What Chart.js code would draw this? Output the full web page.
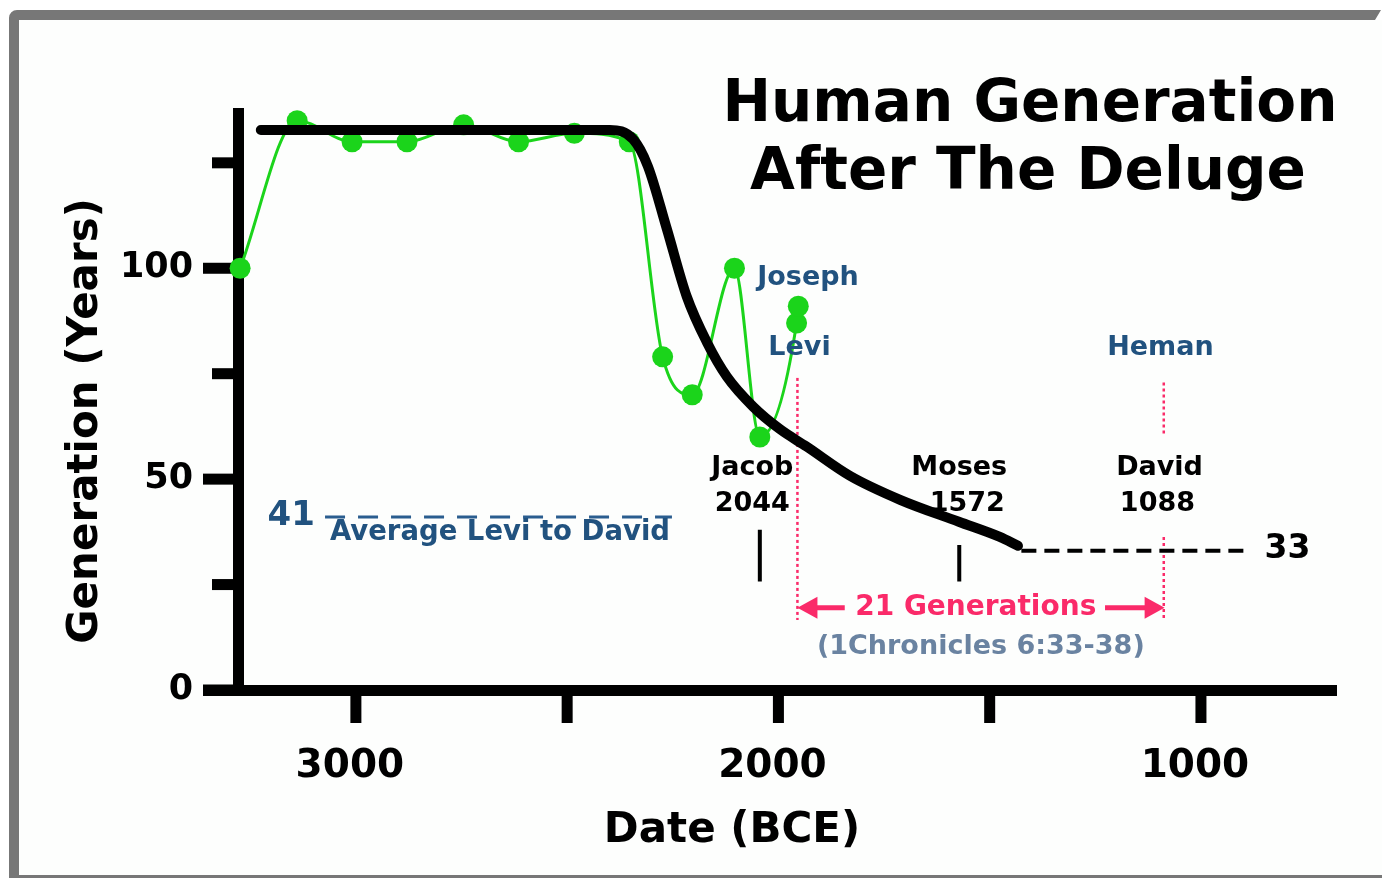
<!DOCTYPE html>
<html><head><meta charset="utf-8">
<script src="https://cdn.jsdelivr.net/npm/chart.js@4.4.0/dist/chart.umd.min.js"></script>
<style>html,body{margin:0;padding:0;background:#fff;overflow:hidden}canvas{display:block}</style>
</head><body>
<canvas id="c" width="1382" height="878"></canvas>
<script>
// ---- data ----
const birthYears = [3274, 3139, 3009, 2879, 2745, 2615, 2483, 2353, 2274, 2204, 2104, 2044, 1957, 1953];
const fatherAges = [100, 135, 130, 130, 134, 130, 132, 130, 79, 70, 100, 60, 87, 91];
const trendYears = [3225, 2399, 2344, 2309, 2264, 2217, 2169, 2122, 2060, 1996, 1933, 1831, 1712, 1573, 1476, 1433];
const trendValues = [132.8, 132.8, 130.6, 124.2, 109.3, 93.3, 82.4, 74.3, 67.2, 61.8, 57.7, 50.8, 45.1, 39.9, 36.3, 34.2];
const tailYears = [1425, 884];
const tailValue = 33;
const avgYears = [3073, 2252];
const avgValue = 41;
const xTickValues = [3000, 2500, 2000, 1500, 1000];
const xTickLabels = ['3000', '', '2000', '', '1000'];
const yTickValues = [0, 25, 50, 75, 100, 125];
const yTickLabels = ['0', '', '50', '', '100', ''];
const jacobYear = 2044, mosesYear = 1572, leviYear = 1955, davidYear = 1088;

// ---- styles ----
const FONT = 'DejaVu Sans';
const GREEN = '#1bd41b';
const BLUE = '#21527f';
const PINK = '#fa2a69';
const SLATE = '#6a83a1';

const pts = (xs, ys) => xs.map((x, i) => ({x: x, y: Array.isArray(ys) ? ys[i] : ys}));

const annotations = [
  {t: 'Joseph', x: 1930, y: 97.6, c: BLUE, s: 27},
  {t: 'Levi', x: 1950, y: 81.2, c: BLUE, s: 27},
  {t: 'Heman', x: 1096, y: 81.2, c: BLUE, s: 27},
  {t: 'Jacob', x: 2062, y: 52.7, c: '#000', s: 27},
  {t: '2044', x: 2062, y: 44.2, c: '#000', s: 27},
  {t: 'Moses', x: 1572, y: 52.7, c: '#000', s: 27},
  {t: '1572', x: 1553, y: 44.2, c: '#000', s: 27},
  {t: 'David', x: 1098, y: 52.7, c: '#000', s: 27},
  {t: '1088', x: 1103, y: 44.2, c: '#000', s: 27},
  {t: '41', x: 3153, y: 41.3, c: BLUE, s: 34},
  {t: 'Average Levi to David', x: 2659, y: 37.3, c: BLUE, s: 27.5},
  {t: '33', x: 795, y: 33.4, c: '#000', s: 33},
  {t: '21 Generations', x: 1533, y: 19.5, c: PINK, s: 28},
  {t: '(1Chronicles 6:33-38)', x: 1521, y: 10.2, c: SLATE, s: 27}
];
const arrows = [{from: 1843, to: 1955, y: 19.5}, {from: 1227, to: 1086, y: 19.5}];

const deco = {
  id: 'deco',
  beforeDraw(chart) {
    const c = chart.ctx;
    c.save();
    c.fillStyle = '#ffffff';
    c.fillRect(0, 0, chart.width, chart.height);
    c.fillStyle = '#777777';
    c.beginPath();
    c.moveTo(9, 876); c.lineTo(9, 18); c.arcTo(9, 10, 17, 10, 8);
    c.lineTo(1381, 10); c.lineTo(1375, 20); c.lineTo(19, 20); c.lineTo(19, 876);
    c.closePath(); c.fill();
    c.fillRect(9, 875, 1373, 3);
    c.fillStyle = '#fdfefd';
    c.fillRect(19, 20, 1363, 855);
    c.restore();
  },
  beforeDatasetsDraw(chart) {
    const c = chart.ctx, xs = chart.scales.x, ys = chart.scales.y, a = chart.chartArea;
    c.save();
    c.fillStyle = '#000';
    // axis lines
    c.fillRect(a.left - 5, a.top, 11, a.bottom - a.top + 6);
    c.fillRect(203, a.bottom - 5, a.right - 203, 11);
    // y ticks
    yTickValues.forEach(v => {
      const py = ys.getPixelForValue(v);
      const len = v % 50 === 0 ? 35 : 26;
      c.fillRect(a.left - len, py - 5.5, len, 11);
    });
    // x ticks
    xTickValues.forEach(v => {
      const px = xs.getPixelForValue(v);
      c.fillRect(px - 5.5, a.bottom, 11, 33);
    });
    c.restore();
  },
  afterDraw(chart) {
    const c = chart.ctx, xs = chart.scales.x, ys = chart.scales.y;
    c.save();
    c.textAlign = 'center';
    c.textBaseline = 'middle';
    // arrows
    c.fillStyle = PINK; c.strokeStyle = PINK; c.lineWidth = 5;
    arrows.forEach(ar => {
      const x0 = xs.getPixelForValue(ar.from), x1 = xs.getPixelForValue(ar.to), py = ys.getPixelForValue(ar.y);
      const dir = Math.sign(x1 - x0);
      c.beginPath(); c.moveTo(x0, py); c.lineTo(x1 - dir * 14, py); c.stroke();
      c.beginPath(); c.moveTo(x1, py); c.lineTo(x1 - dir * 20, py - 11); c.lineTo(x1 - dir * 20, py + 11); c.closePath(); c.fill();
    });
    annotations.forEach(an => {
      c.fillStyle = an.c;
      c.font = 'bold ' + an.s + 'px "' + FONT + '"';
      c.fillText(an.t, xs.getPixelForValue(an.x), ys.getPixelForValue(an.y));
    });
    // titles
    c.fillStyle = '#000';
    c.font = 'bold 58px "' + FONT + '"';
    c.fillText('Human Generation', 1030, 106);
    c.fillText('After The Deluge', 1028, 174);
    c.font = 'bold 42px "' + FONT + '"';
    c.fillText('Date (BCE)', 732, 831);
    c.translate(86, 421); c.rotate(-Math.PI / 2);
    c.fillText('Generation (Years)', 0, 0);
    c.restore();
  }
};

new Chart(document.getElementById('c'), {
  type: 'line',
  data: {
    datasets: [
      {data: pts(trendYears, trendValues), borderColor: '#000', borderWidth: 10, pointRadius: 0,
       cubicInterpolationMode: 'monotone', borderCapStyle: 'round', order: 0, clip: false},
      {data: pts(tailYears, tailValue), borderColor: '#000', borderWidth: 4, borderDash: [15, 8], pointRadius: 0, order: 1},
      {data: pts(birthYears, fatherAges), borderColor: GREEN, borderWidth: 3, pointRadius: 10.5,
       pointBackgroundColor: GREEN, pointBorderWidth: 0, cubicInterpolationMode: 'monotone', order: 2, clip: false},
      {data: pts(avgYears, avgValue), borderColor: '#2a5d8f', borderWidth: 3, borderDash: [20, 13], pointRadius: 0, order: 3},
      {data: [{x: leviYear, y: 74}, {x: leviYear, y: 16.6}], borderColor: PINK, borderWidth: 2.5, borderDash: [3, 3], pointRadius: 0, order: 4},
      {data: [{x: davidYear, y: 72.9}, {x: davidYear, y: 60.6}, {x: davidYear, y: null}, {x: davidYear, y: 36.3}, {x: davidYear, y: 16.6}],
       borderColor: PINK, borderWidth: 2.5, borderDash: [3, 3], pointRadius: 0, order: 5},
      {data: [{x: jacobYear, y: 38}, {x: jacobYear, y: 25.7}], borderColor: '#000', borderWidth: 4, pointRadius: 0, order: 6},
      {data: [{x: mosesYear, y: 34.4}, {x: mosesYear, y: 25.7}], borderColor: '#000', borderWidth: 4, pointRadius: 0, order: 7}
    ]
  },
  options: {
    responsive: false,
    animation: false,
    events: [],
    devicePixelRatio: 1,
    layout: {padding: {top: 108, right: 45, left: 0, bottom: 0}},
    plugins: {legend: {display: false}, tooltip: {enabled: false}, title: {display: false}},
    scales: {
      x: {
        type: 'linear', reverse: true, min: 678, max: 3279, position: 'bottom',
        afterBuildTicks: s => { s.ticks = xTickValues.map(v => ({value: v})); },
        afterFit: s => { s.height = 188; },
        grid: {display: false, drawTicks: false}, border: {display: false},
        ticks: {autoSkip: false, maxRotation: 0, padding: 57, labelOffset: -6, color: '#000',
          font: {family: FONT, weight: 'bold', size: 39, lineHeight: 1},
          callback: (v, i) => xTickLabels[i]}
      },
      y: {
        type: 'linear', min: 0, max: 138, position: 'left',
        afterBuildTicks: s => { s.ticks = yTickValues.map(v => ({value: v})); },
        afterFit: s => { s.width = 238; },
        grid: {display: false, drawTicks: false}, border: {display: false},
        ticks: {autoSkip: false, padding: 45, color: '#000',
          font: {family: FONT, weight: 'bold', size: 35, lineHeight: 1},
          callback: (v, i) => yTickLabels[i]}
      }
    }
  },
  plugins: [deco]
});
</script>
</body></html>
